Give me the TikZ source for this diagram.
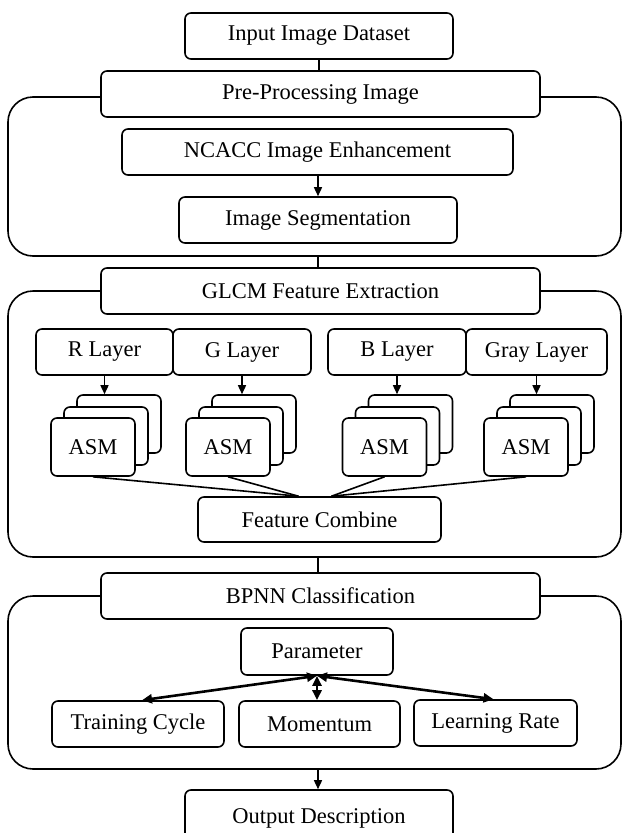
\documentclass[tikz,border=0pt]{standalone}
\usepackage{fontspec}
\setmainfont{Liberation Serif}
\usetikzlibrary{arrows.meta}
\begin{document}
\begin{tikzpicture}[x=1pt,y=-1pt,
  box/.style={draw,line width=1.6pt,rounded corners=6pt,fill=white,inner sep=0pt,
    font=\fontsize{22.5}{26}\selectfont},
  cont/.style={draw,line width=1.6pt,rounded corners=25pt,inner sep=0pt},
  card/.style={box,minimum width=84pt,minimum height=58pt},
  conn/.style={line width=1.6pt},
  arr/.style={line width=1.5pt,-{Triangle[length=9pt,width=8pt]}},
  thick arr/.style={line width=2.6pt,{Triangle[length=10pt,width=9pt]}-{Triangle[length=10pt,width=9pt]}}]
\clip (0,0) rectangle (622,833);
\fill[white] (0,0) rectangle (622,833);
% containers
\node[cont,minimum width=613pt,minimum height=159pt] (c1) at (314.5,176.5) {};
\node[cont,minimum width=613pt,minimum height=266pt] (c2) at (314.5,424) {};
\node[cont,minimum width=613pt,minimum height=173pt] (c3) at (314.5,682.5) {};
% top
\node[box,minimum width=268pt,minimum height=46pt] (inp) at (319,36) {Input Image Dataset};
\node[box,minimum width=439pt,minimum height=46pt] (pre) at (320.5,94) {Pre-Processing Image};
\node[box,minimum width=391pt,minimum height=46pt] (ncacc) at (317.5,152) {NCACC Image Enhancement};
\node[box,minimum width=278pt,minimum height=46pt] (seg) at (318,220) {Image Segmentation};
\draw[conn] (inp.south) -- (inp.south |- pre.north);
\draw[arr] (ncacc.south -| seg.north) -- (seg.north);
% GLCM
\node[box,minimum width=439pt,minimum height=46pt] (glcm) at (320.5,291) {GLCM Feature Extraction};
\coordinate (j1) at (seg.south |- c1.south);
\draw[conn] (j1) -- (j1 |- glcm.north);
\node[box,minimum width=137pt,minimum height=46pt] (R) at (104.5,352) {R Layer};
\node[box,minimum width=138pt,minimum height=46pt] (G) at (242,352) {G Layer};
\node[box,minimum width=138pt,minimum height=46pt] (B) at (397,352) {B Layer};
\node[box,minimum width=141pt,minimum height=46pt] (Gr) at (536.5,352) {Gray Layer};
% stacks
\node[card] (Rb) at (119,424) {};
\node[card] (Rm) at (106,436) {};
\node[card] (Rf) at (93,447) {ASM};
\node[card] (Gb) at (254,424) {};
\node[card] (Gm) at (241,436) {};
\node[card] (Gf) at (228,447) {ASM};
\node[card] (Bb) at (410.5,424) {};
\node[card] (Bm) at (397.5,436) {};
\node[card] (Bf) at (384.5,447) {ASM};
\node[card] (Grb) at (552,424) {};
\node[card] (Grm) at (539,436) {};
\node[card] (Grf) at (526,447) {ASM};
\draw[arr] (R.south) -- (R.south |- Rb.north);
\draw[arr] (G.south) -- (G.south |- Gb.north);
\draw[arr] (B.south) -- (B.south |- Bb.north);
\draw[arr] (Gr.south) -- (Gr.south |- Grb.north);
\node[box,minimum width=243pt,minimum height=45pt] (fc) at (319.5,519.5) {Feature Combine};
\coordinate (fl) at ([xshift=-21pt]fc.north);
\coordinate (fr) at ([xshift=12pt]fc.north);
\draw[conn] (Rf.south) -- (fl);
\draw[conn] (Gf.south) -- (fl);
\draw[conn] (Bf.south) -- (fr);
\draw[conn] (Grf.south) -- (fr);
% BPNN
\node[box,minimum width=439pt,minimum height=46pt] (bpnn) at (320.5,596) {BPNN Classification};
\coordinate (j2) at (seg.south |- c2.south);
\draw[conn] (j2) -- (j2 |- bpnn.north);
\node[box,minimum width=152pt,minimum height=47pt] (par) at (317,651.5) {Parameter};
\node[box,minimum width=172pt,minimum height=46pt] (tc) at (138,724) {Training Cycle};
\node[box,minimum width=161pt,minimum height=46pt] (mom) at (319.5,724) {Momentum};
\node[box,minimum width=163pt,minimum height=46pt] (lr) at (495.5,723) {Learning Rate};
\draw[thick arr] (par.south) -- ([xshift=4pt]tc.north);
\draw[thick arr] (par.south) -- ([xshift=-2pt]lr.north);
\draw[thick arr] (par.south) -- (par.south |- mom.north);
% output
\node[box,minimum width=268pt,minimum height=60pt] (out) at (319,820) {\raisebox{7pt}{Output Description}};
\coordinate (j3) at (seg.south |- c3.south);
\draw[arr] (j3) -- (j3 |- out.north);
\end{tikzpicture}
\end{document}
